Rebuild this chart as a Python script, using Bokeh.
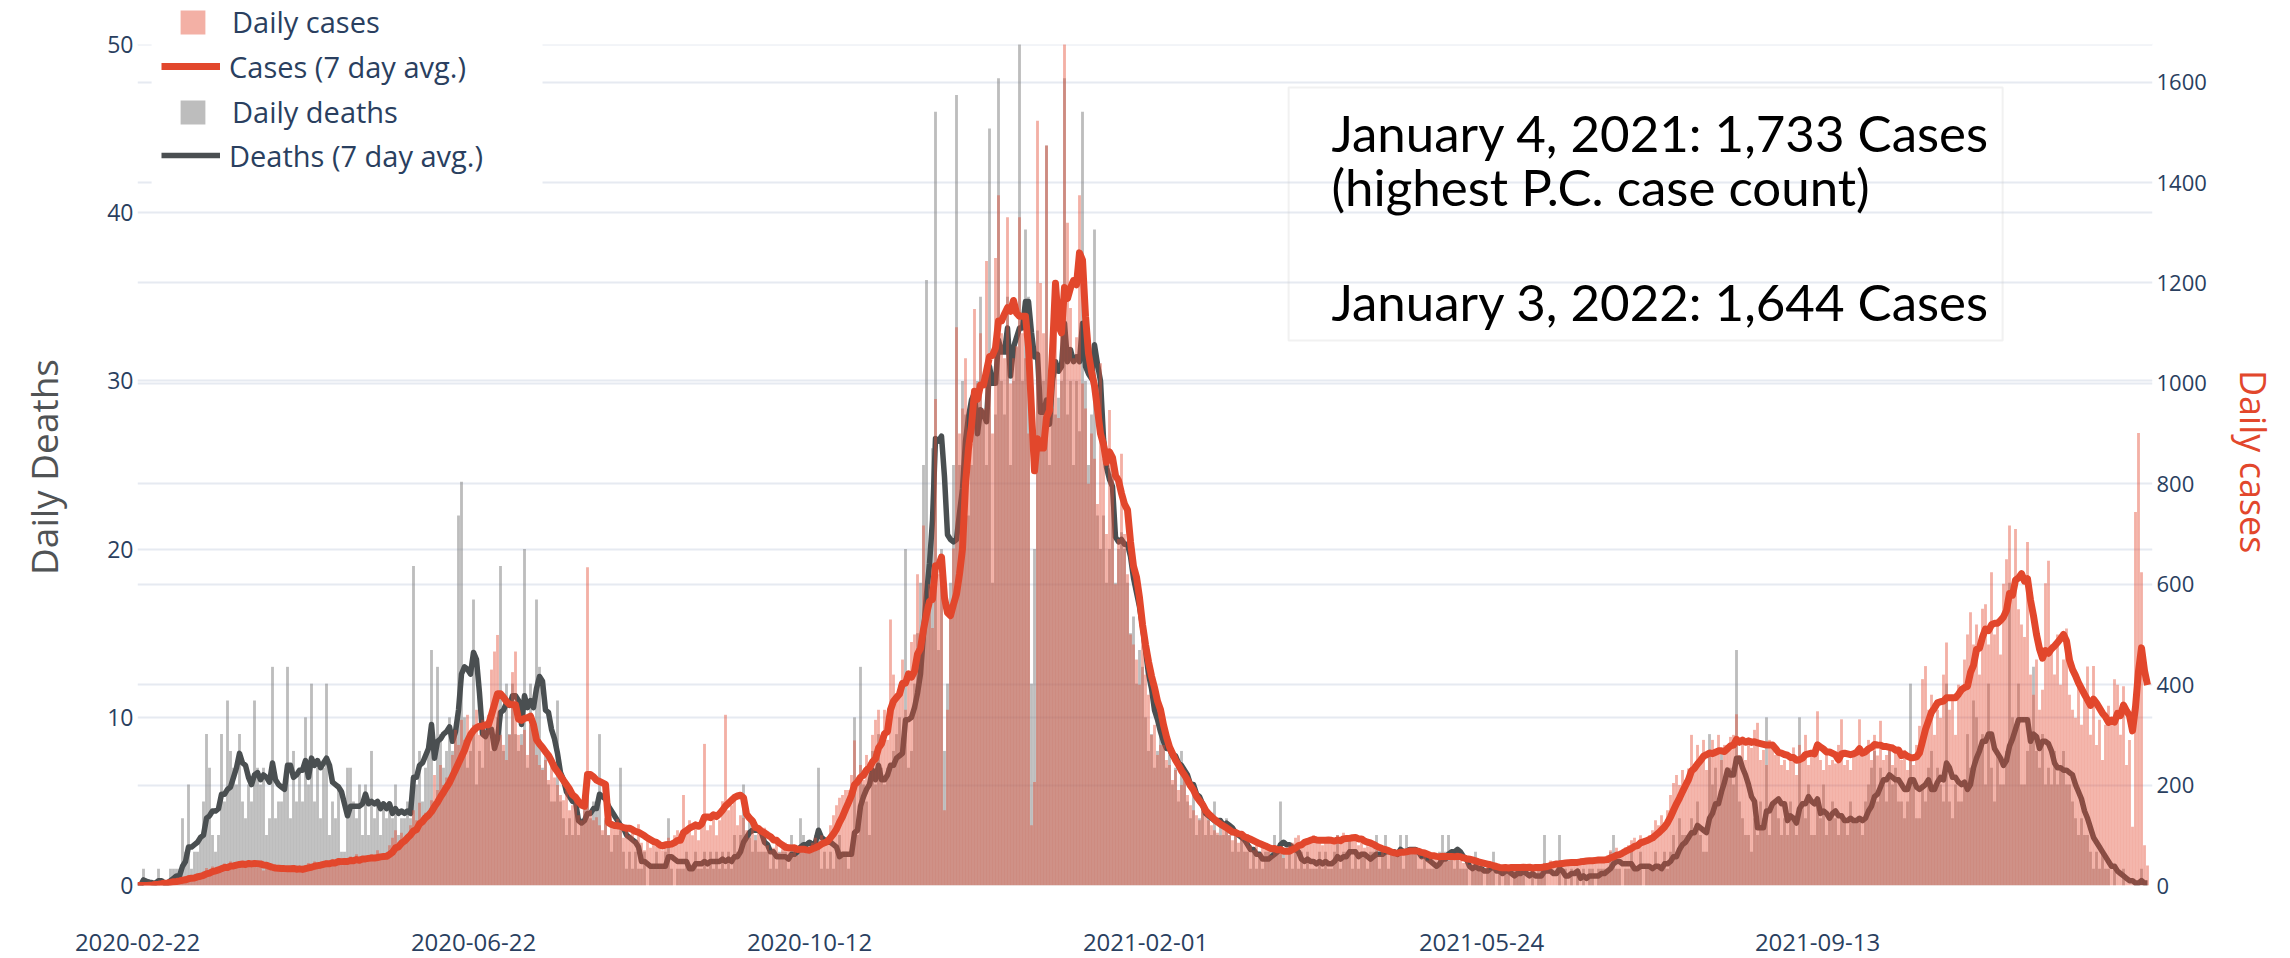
import numpy as np
import pandas as pd
from bokeh.plotting import figure
from bokeh.models import (Range1d, LinearAxis, Grid, FixedTicker, Legend, LegendItem,
                          BoxAnnotation, Label, ColumnDataSource)
from bokeh.embed import file_html
from bokeh.resources import INLINE

# ---------------- data ----------------
TICK_DAYS = [0, 112, 224, 336, 448, 560]
TICK_LABELS = ["2020-02-22", "2020-06-22", "2020-10-12", "2021-02-01", "2021-05-24", "2021-09-13"]
DEATH_TICKS = [0, 10, 20, 30, 40, 50]
CASE_TICKS = [0, 200, 400, 600, 800, 1000, 1200, 1400, 1600]
DEATH_MAX = 50      # top of the visible deaths scale
CASE_MAX = 1675     # top of the visible cases scale

# daily cases, one row per week
CASES_WEEKS = [
    [0, 0, 0, 1, 2, 3, 8], [4, 6, 8, 5, 10, 12, 11], [12, 15, 14, 20, 18, 16, 24],
    [22, 28, 35, 30, 38, 27, 37], [40, 44, 36, 48, 41, 39, 46], [45, 38, 50, 42, 47, 36, 43],
    [30, 36, 32, 29, 38, 33, 40], [28, 35, 30, 34, 27, 38, 32], [40, 45, 38, 48, 36, 44, 43],
    [50, 44, 52, 46, 55, 40, 49], [48, 58, 50, 62, 45, 56, 52], [55, 62, 50, 70, 54, 60, 55],
    [80, 95, 110, 85, 105, 90, 100], [120, 150, 130, 165, 135, 145, 135],
    [170, 220, 190, 240, 200, 215, 200], [260, 310, 280, 330, 290, 340, 290],
    [320, 350, 300, 330, 310, 340, 430], [466, 499, 300, 280, 250, 300, 425],
    [466, 300, 280, 310, 260, 320, 304], [260, 240, 230, 250, 210, 240, 215],
    [200, 180, 170, 190, 150, 160, 182], [140, 130, 150, 634, 150, 130, 136],
    [120, 110, 130, 100, 125, 115, 133], [110, 95, 120, 100, 105, 90, 122],
    [85, 70, 90, 75, 80, 78, 89], [70, 85, 95, 80, 100, 110, 90],
    [180, 110, 130, 100, 125, 90, 119], [282, 110, 120, 140, 100, 130, 168],
    [340, 150, 160, 180, 120, 140, 135], [110, 95, 120, 90, 105, 100, 115],
    [80, 70, 75, 85, 65, 72, 85], [75, 65, 80, 60, 70, 72, 75],
    [70, 85, 95, 80, 100, 90, 96], [120, 140, 160, 175, 180, 190, 190],
    [220, 289, 200, 240, 210, 260, 226], [300, 330, 350, 300, 350, 290, 530],
    [420, 380, 400, 450, 350, 420, 485], [500, 620, 480, 717, 560, 600, 513],
    [969, 620, 600, 150, 350, 560, 671], [1112, 900, 950, 1050, 850, 880, 1148],
    [1000, 1100, 950, 1244, 1050, 900, 1250], [1375, 1100, 1050, 1331, 1000, 1050, 1074],
    [1331, 1100, 1050, 900, 120, 206, 1523], [1200, 1100, 1474, 1000, 950, 1150, 931],
    [1100, 1733, 1320, 1150, 1050, 1092, 1375], [1000, 950, 800, 900, 850, 760, 1040],
    [850, 700, 947, 820, 600, 690, 860], [700, 620, 500, 480, 450, 400, 490],
    [420, 380, 300, 320, 260, 280, 280], [250, 240, 210, 230, 190, 200, 220],
    [180, 160, 150, 140, 130, 150, 140], [130, 120, 110, 105, 100, 125, 115],
    [100, 90, 105, 85, 95, 88, 102], [80, 70, 85, 65, 78, 72, 82],
    [60, 75, 65, 70, 55, 72, 79], [85, 95, 100, 80, 90, 85, 95],
    [100, 85, 95, 80, 90, 88, 92], [90, 100, 85, 105, 95, 90, 100],
    [95, 80, 85, 75, 78, 80, 81], [70, 60, 68, 62, 65, 60, 70],
    [65, 72, 70, 68, 75, 62, 71], [60, 55, 62, 50, 58, 60, 61],
    [55, 62, 58, 50, 60, 56, 65], [50, 45, 48, 42, 50, 44, 50],
    [40, 35, 38, 32, 36, 34, 37], [35, 38, 32, 40, 34, 36, 37],
    [38, 34, 36, 30, 40, 35, 39], [45, 40, 50, 42, 48, 38, 45],
    [50, 45, 52, 44, 48, 46, 51], [55, 48, 52, 50, 54, 46, 52],
    [60, 70, 65, 75, 62, 68, 76], [80, 90, 95, 85, 100, 82, 91],
    [100, 110, 130, 120, 140, 125, 150], [180, 204, 220, 200, 230, 210, 233],
    [300, 240, 280, 250, 290, 230, 258], [290, 260, 300, 250, 280, 270, 296],
    [300, 341, 260, 280, 250, 290, 274], [310, 324, 250, 270, 240, 290, 276],
    [260, 270, 240, 250, 230, 260, 275], [220, 280, 260, 300, 240, 270, 264],
    [347, 250, 230, 260, 240, 250, 243], [280, 331, 240, 250, 230, 260, 264],
    [331, 270, 260, 290, 250, 300, 259], [328, 250, 260, 280, 240, 270, 262],
    [250, 270, 230, 260, 240, 280, 318], [411, 437, 350, 380, 300, 350, 334],
    [420, 484, 350, 380, 300, 400, 396], [450, 500, 544, 480, 520, 420, 551],
    [560, 480, 624, 500, 520, 460, 601], [650, 717, 600, 710, 550, 520, 495],
    [684, 420, 380, 450, 350, 390, 602], [647, 480, 420, 500, 400, 450, 512],
    [380, 350, 334, 400, 320, 370, 436], [300, 437, 280, 330, 250, 320, 358],
    [330, 411, 400, 300, 397, 240, 290], [117, 744, 901, 624, 80, 40],
]

# daily deaths, one row per week
DEATHS_WEEKS = [
    [0, 0, 1, 0, 0, 0, 0], [1, 0, 0, 0, 1, 1, 1], [1, 4, 2, 6, 1, 2, 2],
    [3, 5, 9, 7, 3, 2, 3], [9, 5, 11, 8, 7, 6, 9], [5, 4, 6, 5, 11, 7, 6],
    [7, 3, 4, 13, 4, 5, 5], [6, 13, 4, 8, 5, 7, 5], [10, 6, 12, 5, 7, 4, 7],
    [12, 3, 5, 4, 6, 2, 2], [7, 7, 5, 4, 6, 3, 6], [3, 8, 4, 5, 3, 5, 4],
    [5, 4, 6, 3, 4, 4, 5], [4, 19, 6, 8, 5, 7, 8], [14, 5, 13, 9, 7, 8, 10],
    [8, 9, 22, 24, 10, 7, 8], [17, 6, 8, 7, 9, 10, 8], [9, 10, 19, 8, 12, 9, 12],
    [9, 8, 9, 20, 7, 12, 9], [17, 13, 7, 8, 6, 5, 5], [11, 5, 4, 3, 4, 3, 5],
    [3, 4, 5, 6, 4, 5, 5], [9, 3, 4, 3, 2, 3, 3], [7, 2, 1, 2, 1, 2, 1],
    [1, 2, 0, 1, 1, 2, 1], [1, 2, 4, 1, 0, 1, 1], [1, 2, 1, 1, 2, 1, 1],
    [2, 1, 2, 1, 2, 1, 2], [1, 2, 1, 3, 2, 3, 6], [3, 4, 2, 3, 2, 2, 2],
    [2, 1, 2, 1, 2, 2, 2], [1, 3, 2, 2, 4, 3, 2], [2, 2, 3, 7, 1, 2, 1],
    [2, 1, 2, 3, 2, 2, 1], [2, 10, 3, 13, 6, 5, 3], [8, 6, 9, 7, 6, 7, 7],
    [8, 9, 10, 8, 20, 7, 8], [12, 15, 18, 25, 36, 20, 26], [46, 14, 20, 8, 12, 18, 25],
    [47, 25, 30, 28, 22, 25, 28], [30, 35, 28, 25, 45, 18, 28], [48, 30, 28, 35, 25, 30, 32],
    [52, 30, 39, 35, 12, 20, 33], [28, 30, 44, 25, 30, 28, 29], [30, 48, 28, 30, 25, 30, 27],
    [46, 30, 25, 28, 39, 22, 20], [22, 18, 20, 25, 18, 20, 21], [20, 18, 15, 16, 12, 14, 13],
    [10, 8, 9, 7, 8, 9, 9], [7, 8, 6, 7, 5, 8, 7], [5, 4, 6, 3, 4, 5, 3],
    [4, 3, 5, 3, 4, 3, 4], [3, 2, 3, 2, 3, 2, 2], [1, 2, 1, 2, 1, 2, 2],
    [2, 3, 2, 5, 2, 1, 2], [1, 2, 1, 2, 1, 2, 1], [1, 1, 2, 1, 2, 1, 1],
    [2, 3, 1, 2, 2, 3, 1], [2, 1, 2, 2, 1, 2, 2], [3, 1, 2, 3, 1, 2, 2],
    [2, 3, 1, 3, 2, 2, 2], [1, 1, 2, 1, 1, 1, 1], [2, 3, 2, 3, 2, 1, 2],
    [1, 1, 1, 0, 1, 2, 1], [1, 0, 1, 1, 2, 0, 1], [0, 1, 1, 0, 1, 1, 1],
    [1, 0, 0, 1, 0, 1, 1], [3, 0, 0, 0, 0, 3, 0], [1, 0, 1, 0, 1, 0, 1],
    [0, 1, 1, 0, 1, 1, 1], [1, 2, 3, 1, 1, 0, 1], [1, 2, 1, 1, 2, 0, 1],
    [1, 1, 2, 1, 1, 2, 1], [2, 3, 2, 4, 3, 3, 3], [4, 3, 5, 3, 2, 2, 9],
    [6, 7, 5, 8, 6, 7, 7], [6, 14, 5, 4, 3, 3, 2], [4, 3, 5, 4, 10, 3, 5],
    [5, 4, 3, 4, 3, 5, 4], [3, 10, 5, 4, 6, 3, 3], [5, 4, 6, 3, 4, 5, 4],
    [3, 4, 4, 3, 5, 4, 4], [4, 3, 5, 6, 7, 8, 5], [7, 6, 5, 8, 6, 7, 5],
    [5, 4, 5, 12, 6, 4, 4], [6, 5, 7, 8, 6, 7, 6], [5, 12, 5, 4, 6, 5, 5],
    [6, 9, 7, 11, 10, 8, 9], [6, 12, 7, 5, 8, 6, 6], [8, 18, 10, 9, 12, 6, 6],
    [8, 9, 13, 8, 7, 9, 6], [7, 6, 8, 6, 7, 8, 6], [6, 5, 4, 3, 4, 3, 3],
    [2, 1, 2, 1, 2, 1, 1], [0, 1, 0, 0, 1, 0, 0], [0, 0, 0, 1, 0, 0],
]

NOTE_LINES = ["January 4, 2021:  1,733 Cases", "(highest P.C. case count)",
              "January 3, 2022: 1,644 Cases"]
LEGEND_LABELS = ["Daily cases", "Cases (7 day avg.)", "Daily deaths", "Deaths (7 day avg.)"]
LEFT_TITLE = "Daily Deaths"
RIGHT_TITLE = "Daily cases"

daily_cases = [v for w in CASES_WEEKS for v in w]
daily_deaths = [v for w in DEATHS_WEEKS for v in w]
n = min(len(daily_cases), len(daily_deaths))
df = pd.DataFrame({"day": np.arange(n), "cases": daily_cases[:n], "deaths": daily_deaths[:n]})
df["cases_avg"] = df["cases"].rolling(7, min_periods=1).mean()
df["deaths_avg"] = df["deaths"].rolling(7, min_periods=1).mean()
src = ColumnDataSource(df)

# ---------------- styles ----------------
RED = "#e2472c"
DARK = "#4a4f51"
TICK_COLOR = "#2a3f5f"
GRID = "#e6eaf1"
FONT = "Open Sans"
NBSP = "\u00a0"   # pads the rotated titles so they centre on the 0..max scale

W, H = 2290, 958
# frame spans the canvas top so the legend (above the 50 line) is not clipped;
# the value 50 / 1675 sits at y = PLOT_TOP px, like the reference's top edge
FR_LEFT, FR_RIGHT, PLOT_TOP, FR_BOTTOM = 137, 2152, 44, 885
ext = FR_BOTTOM / (FR_BOTTOM - PLOT_TOP)
p = figure(width=W, height=H, output_backend="svg", toolbar_location=None,
           x_range=Range1d(0, (FR_RIGHT - FR_LEFT) / 3.0),
           y_range=Range1d(0, DEATH_MAX * ext),
           min_border_left=FR_LEFT, min_border_right=W - FR_RIGHT,
           min_border_top=0, min_border_bottom=H - FR_BOTTOM,
           background_fill_color="white", border_fill_color="white",
           outline_line_color=None)
p.extra_y_ranges = {"cases": Range1d(0, CASE_MAX * ext)}

# deaths bars + line
r_dbar = p.vbar(x="day", top="deaths", width=0.95, source=src,
                fill_color="#808080", fill_alpha=0.52, line_color=None)
r_dline = p.line(x="day", y="deaths_avg", source=src, line_color=DARK,
                 line_width=5.5, line_join="round")
# cases bars + line
r_cbar = p.vbar(x="day", top="cases", width=0.95, source=src, y_range_name="cases",
                fill_color="#e34a33", fill_alpha=0.44, line_color=None)
r_cline = p.line(x="day", y="cases_avg", source=src, y_range_name="cases",
                 line_color=RED, line_width=7, line_join="round")

def plain_axis(ax):
    ax.axis_line_color = None
    ax.major_tick_line_color = None
    ax.minor_tick_line_color = None
    ax.major_tick_out = 0
    ax.major_tick_in = 0
    ax.minor_tick_out = 0
    ax.minor_tick_in = 0

# x axis
xa = p.xaxis[0]
xa.ticker = FixedTicker(ticks=TICK_DAYS)
xa.major_label_overrides = {d: l for d, l in zip(TICK_DAYS, TICK_LABELS)}
xa.major_label_text_font = FONT
xa.major_label_text_font_size = "24px"
xa.major_label_text_color = TICK_COLOR
xa.major_label_standoff = 48
plain_axis(xa)
p.xgrid.visible = False

# left axis
ya = p.yaxis[0]
ya.ticker = FixedTicker(ticks=DEATH_TICKS)
ya.bounds = (0, DEATH_MAX)
ya.axis_label = LEFT_TITLE + NBSP * 5
ya.axis_label_text_font = FONT
ya.axis_label_text_font_size = "37px"
ya.axis_label_text_font_style = "normal"
ya.axis_label_text_color = "#505355"
ya.axis_label_standoff = 35
ya.major_label_text_font = FONT
ya.major_label_text_font_size = "23px"
ya.major_label_text_color = TICK_COLOR
ya.major_label_standoff = 4
plain_axis(ya)
p.ygrid.ticker = FixedTicker(ticks=DEATH_TICKS)
p.ygrid.grid_line_color = GRID
p.ygrid.grid_line_width = 2

# right axis
right_ticks = FixedTicker(ticks=CASE_TICKS)
raxis = LinearAxis(y_range_name="cases", ticker=right_ticks,
                   axis_label=NBSP * 4 + RIGHT_TITLE, bounds=(0, CASE_MAX),
                   axis_label_text_font=FONT, axis_label_text_font_size="36px",
                   axis_label_text_font_style="normal", axis_label_text_color=RED,
                   axis_label_standoff=19,
                   major_label_text_font=FONT, major_label_text_font_size="22px",
                   major_label_text_color=TICK_COLOR, major_label_standoff=4)
plain_axis(raxis)
p.add_layout(raxis, "right")
p.add_layout(Grid(dimension=1, ticker=right_ticks, y_range_name="cases",
                  grid_line_color=GRID, grid_line_width=2))

# white strip above the top of the scale (the reference clips bars there)
p.add_layout(BoxAnnotation(bottom=DEATH_MAX, fill_color="white", fill_alpha=1.0,
                           line_alpha=0))
# white legend background
p.add_layout(BoxAnnotation(left=4.7, right=135, bottom=41.3,
                           fill_color="white", fill_alpha=1.0, line_alpha=0))

# legends (one per entry so bar swatches are square and lines long)
# (renderer, glyph_w, glyph_h, x offset from frame left, label standoff)
entries = [(r_cbar, 31, 30, 40, 24), (r_cline, 59, 40, 24, 9),
           (r_dbar, 31, 30, 40, 24), (r_dline, 59, 40, 24, 9)]
centers = [21, 66, 111, 155]
for (rend, gw, gh, lx, stand), cy, lab in zip(entries, centers, LEGEND_LABELS):
    lg = Legend(items=[LegendItem(label=lab, renderers=[rend])],
                location=(lx, int(round(FR_BOTTOM - (cy + 20)))),
                glyph_width=gw, glyph_height=gh, label_height=gh,
                label_standoff=stand, padding=0, margin=0, spacing=0,
                border_line_alpha=0, background_fill_alpha=0,
                label_text_font=FONT, label_text_font_size="29px",
                label_text_color=TICK_COLOR, label_text_baseline="middle")
    p.add_layout(lg, "center")

# annotation box with the note
p.add_layout(BoxAnnotation(left=383.7, right=621.7, bottom=32.4, top=47.44,
                           fill_alpha=0, line_color="#cfcfcf", line_width=2))
for txt, yb in zip(NOTE_LINES, [44.75, 41.56, 34.72]):
    p.add_layout(Label(x=398, y=yb, text=txt, text_font="Lato",
                       text_font_size="51px", text_color="black",
                       text_baseline="alphabetic"))

open("out.html", "w").write(file_html(p, INLINE))
